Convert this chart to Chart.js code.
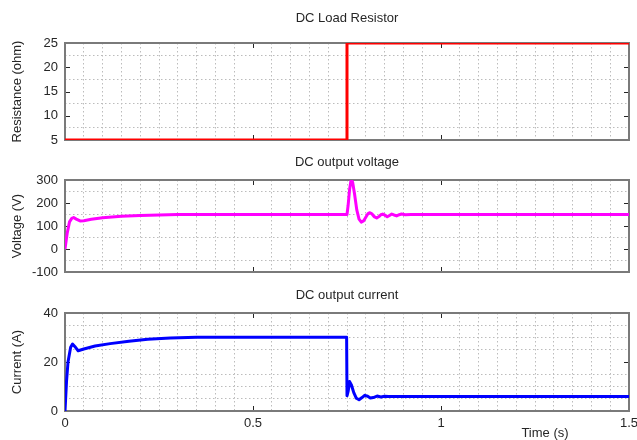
<!DOCTYPE html>
<html>
<head>
<meta charset="utf-8">
<script src="https://cdn.jsdelivr.net/npm/chart.js@4.4.1/dist/chart.umd.min.js"></script>
<style>
  body { margin: 0; background: #fff; }
  #wrap { position: relative; width: 637px; height: 440px; overflow: hidden; }
  canvas { position: absolute; left: 0; }
</style>
</head>
<body>
<div id="wrap">
  <canvas id="resChart" width="637" height="150" style="top:0px"></canvas>
  <canvas id="voltChart" width="637" height="140" style="top:145px"></canvas>
  <canvas id="currChart" width="637" height="162" style="top:278px"></canvas>
</div>
<script>
// load resistor step
const timeRes = [0, 0.75, 0.75, 1.5];
const resistance = [5, 5, 25, 25];

// DC output voltage
const timeVolt = [0, 0.006, 0.012, 0.018, 0.023, 0.03, 0.04, 0.05, 0.07, 0.1, 0.15, 0.2, 0.25, 0.3, 0.4, 0.6,
  0.75, 0.753, 0.757, 0.761, 0.765, 0.77, 0.776, 0.782, 0.788, 0.794, 0.8, 0.806, 0.811, 0.816, 0.822, 0.829,
  0.835, 0.84, 0.845, 0.851, 0.857, 0.863, 0.869, 0.875, 0.882, 0.889, 0.895, 0.905, 0.92, 1.2, 1.5];
const voltage = [0, 70, 118, 133, 137, 130, 122, 123, 129, 136, 142, 146, 148, 149.5, 150, 150,
  150, 190, 260, 302, 290, 240, 170, 130, 117, 122, 138, 154, 158, 153, 141, 135,
  141, 149, 152, 147, 140, 146, 152, 148, 144, 149, 152, 149, 150, 150, 150];

// DC output current
const timeCurr = [0, 0.004, 0.008, 0.015, 0.02, 0.028, 0.035, 0.05, 0.08, 0.12, 0.17, 0.22, 0.28, 0.35, 0.6,
  0.749, 0.75, 0.753, 0.757, 0.762, 0.768, 0.775, 0.782, 0.79, 0.797, 0.805, 0.812, 0.82, 0.83, 0.84, 0.85, 0.86, 1.2, 1.5];
const current = [0, 12, 20, 26, 27.3, 26, 24.6, 25.3, 26.5, 27.5, 28.5, 29.3, 29.8, 30.1, 30.1,
  30.1, 6.2, 8, 12, 10.5, 7.5, 5.2, 4.6, 5.5, 6.4, 6.0, 5.3, 5.5, 6.1, 5.7, 6.0, 5.9, 5.9, 5.9];

// axis ticks
const xTickLabels = ["0", "0.5", "1", "1.5"];
const resTicks = [5, 10, 15, 20, 25];
const voltTicks = [-100, 0, 100, 200, 300];
const currTicks = [0, 20, 40];

const FONT = "'Liberation Sans', Arial, sans-serif";
const TEXT = "#262626";

const near = (a, b) => Math.abs(a - b) < 1e-6;
const isXMajor = (v) => xTickLabels.some(l => near(Number(l), v));

/** frame + inward ticks, drawn under the data like matlab */
const framePlugin = {
  id: "frame",
  beforeDatasetsDraw(chart) {
    const { ctx, chartArea: a, scales } = chart;
    ctx.save();
    ctx.strokeStyle = "#262626";
    ctx.lineWidth = 1;
    ctx.beginPath();
    for (const t of scales.x.ticks) {
      if (!isXMajor(t.value)) continue;
      const px = Math.round(scales.x.getPixelForValue(t.value)) + 0.5;
      ctx.moveTo(px, a.top); ctx.lineTo(px, a.top + 5);
      ctx.moveTo(px, a.bottom); ctx.lineTo(px, a.bottom - 5);
    }
    for (const v of chart.options.scales.y.majors) {
      const py = Math.round(scales.y.getPixelForValue(v)) + 0.5;
      ctx.moveTo(a.left, py); ctx.lineTo(a.left + 5, py);
      ctx.moveTo(a.right, py); ctx.lineTo(a.right - 5, py);
    }
    ctx.stroke();
    ctx.strokeStyle = "#7a7a7a";
    ctx.lineWidth = 2;
    ctx.strokeRect(a.left, a.top, a.right - a.left, a.bottom - a.top);
    ctx.restore();
  }
};

const xlabelPlugin = {
  id: "xlabel",
  afterDraw(chart) {
    const { ctx } = chart;
    ctx.save();
    ctx.font = "13px " + FONT;
    ctx.fillStyle = TEXT;
    ctx.textAlign = "center";
    ctx.textBaseline = "middle";
    ctx.fillText("Time (s)", 545, 155);
    ctx.restore();
  }
};

/**
 * Builds one of the stacked panels
 */
function makePanel(id, opts) {
  const majors = opts.majors;
  return new Chart(document.getElementById(id), {
    type: "line",
    data: {
      datasets: [{
        data: opts.xs.map((x, i) => ({ x: x, y: opts.ys[i] })),
        borderColor: opts.color,
        borderWidth: 3,
        borderJoinStyle: "round",
        pointRadius: 0,
        tension: 0,
      }]
    },
    options: {
      responsive: false,
      animation: false,
      devicePixelRatio: 1,
      layout: { padding: { left: 0, right: 8, top: 0, bottom: 0 } },
      plugins: {
        legend: { display: false },
        tooltip: { enabled: false },
        title: {
          display: true,
          text: opts.title,
          fullSize: false,
          color: TEXT,
          font: { family: FONT, size: 13, weight: "normal" },
          padding: opts.titlePad,
        },
      },
      scales: {
        x: {
          type: "linear",
          min: 0,
          max: 1.5,
          afterFit: (s) => { s.height = opts.xHeight; s.paddingLeft = 0; s.paddingRight = 0; },
          ticks: {
            stepSize: 0.05,
            autoSkip: false,
            maxRotation: 0,
            maxTicksLimit: 100,
            padding: 5,
            color: TEXT,
            font: { family: FONT, size: 13 },
            callback: (v) => {
              if (!opts.showX) return "";
              const l = xTickLabels.find(s => near(Number(s), v));
              return l === undefined ? "" : l;
            },
          },
          grid: {
            drawTicks: false,
            lineWidth: 1,
            color: (c) => (c.tick && isXMajor(c.tick.value)) ? "rgba(0,0,0,0)" : "#bcbcbc",
          },
          border: { display: false, dash: [1.5, 2.5] },
        },
        y: {
          min: majors[0],
          max: majors[majors.length - 1],
          majors: majors,
          afterFit: (s) => { s.width = 65; s.paddingTop = 0; s.paddingBottom = 0; },
          title: {
            display: true,
            text: opts.ylabel,
            color: TEXT,
            font: { family: FONT, size: 13 },
            padding: { top: 10, bottom: 0 },
          },
          ticks: {
            stepSize: opts.yStep,
            autoSkip: false,
            maxTicksLimit: 100,
            padding: 7,
            color: TEXT,
            font: { family: FONT, size: 13 },
            callback: (v) => majors.some(m => near(m, v)) ? String(v) : "",
          },
          grid: {
            drawTicks: false,
            lineWidth: 1,
            color: (c) => (c.tick && majors.some(m => near(m, c.tick.value))) ? "rgba(0,0,0,0)" : "#bcbcbc",
          },
          border: { display: false, dash: [1.5, 2.5] },
        },
      },
    },
    plugins: opts.extra ? [framePlugin, opts.extra] : [framePlugin],
  });
}

makePanel("resChart", {
  xs: timeRes, ys: resistance, color: "#ff0000",
  title: "DC Load Resistor", titlePad: { top: 11, bottom: 16.4 },
  ylabel: "Resistance (ohm)", majors: resTicks, yStep: 2.5,
  xHeight: 10, showX: false,
});

makePanel("voltChart", {
  xs: timeVolt, ys: voltage, color: "#ff00ff",
  title: "DC output voltage", titlePad: { top: 10, bottom: 9.4 },
  ylabel: "Voltage (V)", majors: voltTicks, yStep: 50,
  xHeight: 13, showX: false,
});

makePanel("currChart", {
  xs: timeCurr, ys: current, color: "#0000ff",
  title: "DC output current", titlePad: { top: 10, bottom: 9.4 },
  ylabel: "Current (A)", majors: currTicks, yStep: 5,
  xHeight: 29, showX: true, extra: xlabelPlugin,
});
</script>
</body>
</html>
